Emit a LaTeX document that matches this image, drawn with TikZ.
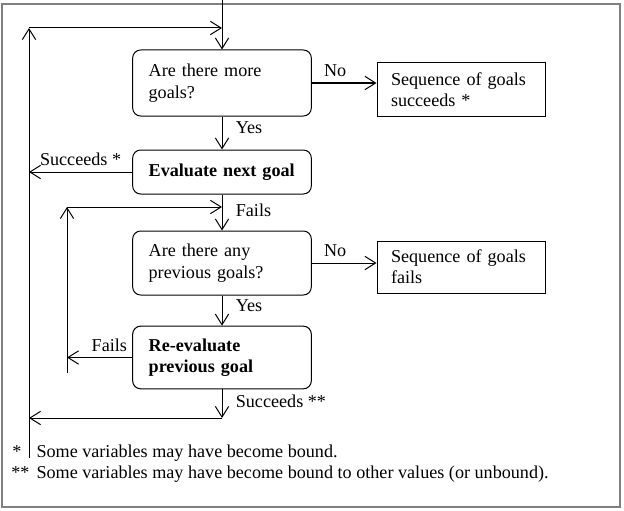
\documentclass[tikz,border=0pt]{standalone}
\usepackage{fontspec}
\setmainfont{Liberation Serif}
\usetikzlibrary{arrows.meta,positioning}

\begin{document}
\begin{tikzpicture}[x=0.75pt, y=-0.75pt, line width=0.75pt,
      font=\fontsize{13.6}{16}\selectfont,
      qbox/.style={draw, rounded corners=6pt, text width=110pt,
                   inner xsep=12pt, align=left},
      endbox/.style={draw, text width=105pt, inner xsep=10.5pt, align=left},
      arr/.style={-{Straight Barb[length=8pt, width=10pt]}},
      lbl/.style={inner sep=4pt},
      rlbl/.style={right, inner sep=0pt, xshift=10pt}
    ]
    \useasboundingbox (0,0) rectangle (624,510);
    \draw[gray, line width=1.2pt] (2,4) rectangle (620,507);

    % main column
    \node[qbox, minimum height=49.5pt] (more) at (222,83) {Are there more\\goals?};
    \node[qbox, minimum height=33pt] (eval) at (222,172) {\textbf{Evaluate next goal}};
    \node[qbox, minimum height=48pt] (prev) at (222,263) {Are there any\\previous goals?};
    \node[qbox, minimum height=47pt] (reeval) at (222,357.5)
         {\textbf{Re-evaluate}\\\textbf{previous goal}};

    % outcomes
    \node[endbox, minimum height=40pt] (succ) at (461,89.5) {Sequence of goals\\succeeds *};
    \node[endbox, minimum height=39pt] (fail) at (461,267) {Sequence of goals\\fails};

    % loop corners
    \coordinate (entry) at (222,0);
    \coordinate (outerlow) at (29,458);
    \coordinate (outertop) at (29,28);
    \coordinate (outerjoin) at (222,28);
    \coordinate (innerlow) at (67,373);
    \coordinate (innertop) at (67,207);
    \coordinate (innerjoin) at (222,207);
    \coordinate (backdown) at (222,418);
    \coordinate (backleft) at (29,418);

    \draw[arr] (entry) -- (more);
    \draw[arr] (outerlow) -- (outertop);
    \draw[arr] (outertop) -- (outerjoin);
    \draw[arr] (more.east) -- node[lbl, above, pos=0.36]{No} (more.east -| succ.west);
    \draw[arr] (more) -- node[rlbl, pos=0.35]{Yes} (eval);
    \draw[arr] (eval.west) -- node[lbl, above]{Succeeds *} (eval.west -| outertop);
    \draw[arr] (eval) -- node[rlbl, pos=0.45]{Fails} (prev);
    \draw[arr] (innerlow) -- (innertop);
    \draw[arr] (innertop) -- (innerjoin);
    \draw[arr] (prev.east) -- node[lbl, above, pos=0.36]{No} (prev.east -| fail.west);
    \draw[arr] (prev) -- node[rlbl, pos=0.35]{Yes} (reeval);
    \draw[arr] (reeval.west) -- node[lbl, above, pos=0.35]{Fails} (reeval.west -| innertop);
    \draw[arr] (reeval) -- node[rlbl, pos=0.4]{Succeeds **} (backdown);
    \draw[arr] (backdown) -- (backleft);

    % footnotes
    \node[anchor=base west, inner sep=0pt] (note1) at (36,457) {Some variables may have become bound.};
    \node[anchor=base east, inner sep=0pt] (mark1) at (22,457) {*};
    \node[anchor=base west, inner sep=0pt] (note2) at (36,478)
         {Some variables may have become bound to other values (or unbound).};
    \node[anchor=base east, inner sep=0pt] (mark2) at (30,478) {**};
  \end{tikzpicture}
\end{document}
